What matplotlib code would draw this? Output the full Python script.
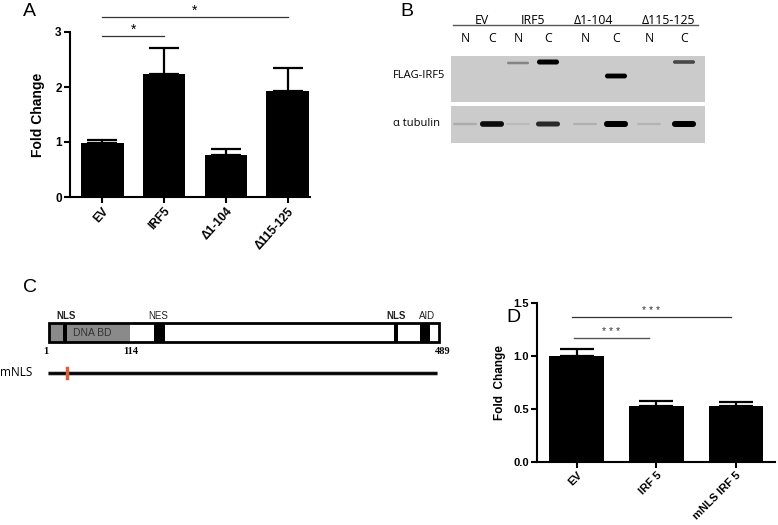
import numpy as np
import matplotlib
matplotlib.use("Agg")
import matplotlib.pyplot as plt
from matplotlib.patches import Rectangle, FancyBboxPatch

plt.rcParams['font.family'] = ['Liberation Sans', 'DejaVu Sans']

# panel A data
a_labels = ["EV", "IRF5", "\u03941-104", "\u0394115-125"]
a_means = [0.98, 2.23, 0.76, 1.92]
a_upper = [1.03, 2.71, 0.88, 2.34]

# panel D data
d_labels = ["EV", "IRF 5", "mNLS IRF 5"]
d_means = [1.0, 0.53, 0.525]
d_upper = [1.07, 0.575, 0.565]

# panel B blot
b_groups = ["EV", "IRF5", "\u03941-104", "\u0394115-125"]
b_lanes = ["N", "C", "N", "C", "N", "C", "N", "C"]
flag_band = [0.0, 0.0, 0.3, 1.0, 0.0, 0.95, 0.0, 0.6]
tubulin_band = [0.1, 0.9, 0.03, 0.75, 0.08, 1.0, 0.06, 1.0]

# panel C domains (aa start, aa end, colour)
c_domains = [(1, 18, "#8a8a8a"), (18, 23, "black"), (23, 102, "#8a8a8a"),
             (102, 133, "white"), (133, 146, "black"), (146, 433, "white"),
             (433, 438, "black"), (438, 465, "white"), (465, 478, "black"),
             (478, 489, "white")]
c_tops = [(22, "NLS", "bold"), (138, "NES", "normal"), (435, "NLS", "bold"), (474, "AID", "normal")]
c_numbers = [(-3, "1"), (103, "114"), (494, "489")]

W, H = 778, 525
fig = plt.figure(figsize=(W / 100, H / 100), dpi=100)


def px_axes(x0, y0, x1, y1):
    return fig.add_axes([x0 / W, 1 - y1 / H, (x1 - x0) / W, (y1 - y0) / H])


def style(ax, size):
    for s in ["top", "right"]:
        ax.spines[s].set_visible(False)
    for s in ["left", "bottom"]:
        ax.spines[s].set_linewidth(1.5)
    ax.tick_params(direction="out", length=4, width=1.5, labelsize=size, pad=2)
    for t in ax.get_xticklabels() + ax.get_yticklabels():
        t.set_fontweight("bold")


ov = fig.add_axes([0, 0, 1, 1])
ov.set_xlim(0, W)
ov.set_ylim(H, 0)
ov.axis("off")

# ---- A ----
axA = px_axes(70, 32, 310, 197)
x = np.arange(len(a_means))
axA.bar(x, a_means, width=0.69, color="black")
axA.errorbar(x, a_means, yerr=[np.zeros(len(x)), np.array(a_upper) - np.array(a_means)],
             fmt="none", ecolor="black", elinewidth=1.6, capsize=11, capthick=1.6)
axA.set_ylim(0, 3)
axA.set_xlim(-0.52, 3.36)
axA.set_yticks([0, 1, 2, 3])
axA.set_xticks(x)
axA.set_xticklabels(a_labels, rotation=48, ha="right", rotation_mode="anchor")
axA.set_ylabel("Fold Change", fontsize=10, fontweight="bold", labelpad=7)
style(axA, 8.5)
axA.plot([0, 1], [2.93, 2.93], color="#333333", lw=0.9, clip_on=False)
axA.text(0.5, 2.92, "*", ha="center", va="bottom", fontsize=10)
axA.plot([0, 3], [3.27, 3.27], color="#333333", lw=0.9, clip_on=False)
axA.text(1.5, 3.26, "*", ha="center", va="bottom", fontsize=10)

# ---- D ----
axD = px_axes(537, 303, 775, 462)
x = np.arange(len(d_means))
axD.bar(x, d_means, width=0.69, color="black")
axD.errorbar(x, d_means, yerr=[np.zeros(len(x)), np.array(d_upper) - np.array(d_means)],
             fmt="none", ecolor="black", elinewidth=1.6, capsize=12, capthick=1.6)
axD.set_ylim(0, 1.5)
axD.set_xlim(-0.5, 2.49)
axD.set_yticks([0, 0.5, 1.0, 1.5])
axD.set_yticklabels(["0.0", "0.5", "1.0", "1.5"])
axD.set_xticks(x)
axD.set_xticklabels(d_labels, rotation=45, ha="right", rotation_mode="anchor")
axD.set_ylabel("Fold  Change", fontsize=8.5, fontweight="bold", labelpad=5)
style(axD, 8)
axD.plot([-0.04, 0.91], [1.17, 1.17], color="#555555", lw=1.0, clip_on=False)
axD.text(0.43, 1.175, "* * *", ha="center", va="bottom", fontsize=7.5, color="#333333")
axD.plot([-0.06, 1.94], [1.37, 1.37], color="#333333", lw=0.9, clip_on=False)
axD.text(0.93, 1.375, "* * *", ha="center", va="bottom", fontsize=7.5, color="#333333")

# ---- B (blot) ----
blot_font = ["Open Sans", "DejaVu Sans"]
lane_x = [465, 492, 518, 548, 585, 616, 649, 684]
group_x = [482, 533, 593, 669]
for gx, g in zip(group_x, b_groups):
    ov.text(gx, 20, g, ha="center", va="center", fontsize=8.8, family=blot_font)
ov.plot([453, 698], [25, 25], color="#555555", lw=1.0)
for lx, l in zip(lane_x, b_lanes):
    ov.text(lx, 39, l, ha="center", va="center", fontsize=8.8, family=blot_font)
ov.add_patch(Rectangle((451, 56), 254, 46, color="#cbcbcb", lw=0))
ov.add_patch(Rectangle((451, 106), 254, 37, color="#cbcbcb", lw=0))
flag_y = [63, 63, 63, 62, 76, 76, 63, 62]
for lx, fy, v in zip(lane_x, flag_y, flag_band):
    if v > 0:
        h = 1.5 + 3.5 * v
        ov.add_patch(FancyBboxPatch((lx - 11, fy - h / 2), 22, h,
                                    boxstyle="round,pad=0,rounding_size=%.1f" % (h / 2),
                                    color="black", alpha=min(1, 0.05 + v), lw=0))
for lx, v in zip(lane_x, tubulin_band):
    h = 2.0 + 4.0 * v
    ov.add_patch(FancyBboxPatch((lx - 12, 124 - h / 2), 24, h,
                                boxstyle="round,pad=0,rounding_size=%.1f" % (h / 2),
                                color="black", alpha=min(1, 0.05 + v), lw=0))
ov.text(393, 76, "FLAG-IRF5", ha="left", va="center", fontsize=8, family=blot_font)
ov.text(393, 124, "\u03b1 tubulin", ha="left", va="center", fontsize=8, family=blot_font)

# ---- C (domain diagram) ----
axC = px_axes(49, 300, 439, 390)
axC.set_xlim(1, 489)
axC.set_ylim(90, 0)
axC.axis("off")
for s, e, c in c_domains:
    axC.add_patch(Rectangle((s, 23), e - s, 19, facecolor=c, edgecolor="none", clip_on=False))
axC.add_patch(Rectangle((1, 23), 488, 19, facecolor="none", edgecolor="black", lw=2.0, clip_on=False))
for pos, t, wt in c_tops:
    axC.text(pos, 21, t, ha="center", va="bottom", fontsize=7, fontweight=wt, color="#222222")
axC.text(55, 32.5, "DNA BD", ha="center", va="center", fontsize=7.5, color="#333333")
for pos, t in c_numbers:
    axC.text(pos, 52, t, ha="center", va="center", fontsize=7.5, fontweight="bold",
             family=["Liberation Serif", "DejaVu Serif"])
axC.plot([0, 486], [73, 73], color="#bbbbbb", lw=3.5, solid_capstyle="butt", clip_on=False)
axC.plot([0, 486], [73, 73], color="black", lw=2.0, solid_capstyle="butt", clip_on=False)
axC.plot([23, 23], [68, 78], color="#d9603b", lw=2.5, clip_on=False)
ov.text(0, 373, "mNLS", ha="left", va="center", fontsize=8.5, family=blot_font)

# panel letters
for lx, ly, t in [(23, 12, "A"), (400, 12, "B"), (23, 288, "C"), (506, 318, "D")]:
    ov.text(lx, ly, t, ha="left", va="center", fontsize=14)

fig.savefig("out.png", dpi=100)
